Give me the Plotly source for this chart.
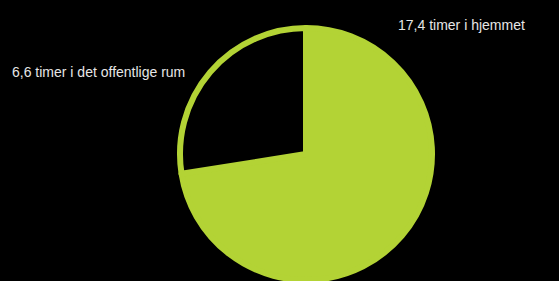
import plotly.graph_objects as go

labels = ["17,4 timer i hjemmet", "6,6 timer i det offentlige rum"]
values = [17.4, 6.6]
colors = ["#b3d335", "#000000"]

W, H = 559, 281
fig = go.Figure(go.Pie(
    labels=labels, values=values, sort=False, direction="clockwise", rotation=0,
    marker=dict(colors=colors, line=dict(color="#b3d335", width=6)),
    textinfo="none", hoverinfo="label",
    domain=dict(x=[180 / W, 432 / W], y=[1 / H, 253 / H]),
))
fig.add_annotation(text=labels[0], x=396 / W, y=1 - 25 / H, xref="paper", yref="paper",
                   xanchor="left", yanchor="middle", showarrow=False,
                   font=dict(family="Liberation Sans, Arial", size=14, color="#e6e6e6"))
fig.add_annotation(text=labels[1], x=10 / W, y=1 - 72 / H, xref="paper", yref="paper",
                   xanchor="left", yanchor="middle", showarrow=False,
                   font=dict(family="Liberation Sans, Arial", size=14, color="#e6e6e6"))
fig.update_layout(width=W, height=H, margin=dict(l=0, r=0, t=0, b=0),
                  paper_bgcolor="black", plot_bgcolor="black", showlegend=False)
fig.write_html("out.html", config={"displayModeBar": False},
               post_script="document.body.style.margin='0';")
